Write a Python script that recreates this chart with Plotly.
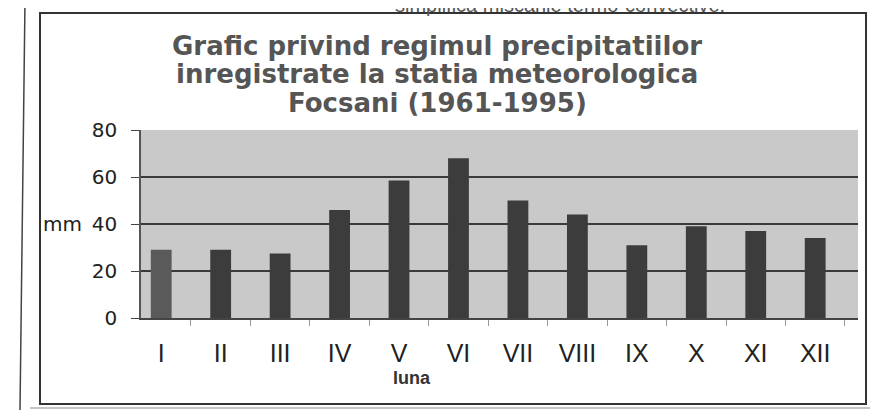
import plotly.graph_objects as go

months = ["I", "II", "III", "IV", "V", "VI", "VII", "VIII", "IX", "X", "XI", "XII"]
precip = [29, 29, 27.5, 46, 58.5, 68, 50, 44, 31, 39, 37, 34]
yticks = [0, 20, 40, 60, 80]

W, H = 879, 416
OFF = 8  # page body offset
# plot area in reference pixels
L, R, T, B = 141, 858, 130, 318
Lf, Rf, Tf, Bf = L - OFF, R - OFF, T - OFF, B - OFF

def px(x):
    return (x - L) / (R - L)

def py(y):
    return (B - y) / (B - T)

colors = ["#5a5a5a"] + ["#3c3c3c"] * (len(months) - 1)

fig = go.Figure(go.Bar(x=months, y=precip, marker=dict(color=colors, line=dict(width=0)), width=0.35))

title_lines = ["Grafic privind regimul precipitatiilor",
               "inregistrate la statia meteorologica",
               "Focsani (1961-1995)"]
title_y = [46, 74, 103]

ann = []
for t, yy in zip(title_lines, title_y):
    ann.append(dict(text="<b>" + t + "</b>", xref="paper", yref="paper", x=px(437), y=py(yy),
                    xanchor="center", yanchor="middle", showarrow=False,
                    font=dict(family="DejaVu Sans", size=26, color="#555")))
ann += [
    dict(text="mm", xref="paper", yref="paper", x=px(84), y=py(224), xanchor="right", yanchor="middle",
         showarrow=False, font=dict(family="DejaVu Sans", size=20, color="#222")),
    dict(text="<b>luna</b>", xref="paper", yref="paper", x=px(412), y=py(378), xanchor="center", yanchor="middle",
         showarrow=False, font=dict(family="Liberation Sans", size=18, color="#333")),
    dict(text="simplifica miscarile termo-convective.", xref="paper", yref="paper", x=px(560), y=py(5),
         xanchor="center", yanchor="middle", showarrow=False,
         font=dict(family="Liberation Sans", size=20, color="#555")),
]

fig.update_layout(
    width=W, height=H,
    margin=dict(l=Lf, r=W - Rf, t=Tf, b=H - Bf, pad=0),
    paper_bgcolor="white",
    plot_bgcolor="#c9c9c9",
    showlegend=False,
    font=dict(family="Liberation Sans, Arial", color="#2a2a2a"),
    xaxis=dict(
        type="category", range=[-0.34, 11.72],
        tickfont=dict(family="Liberation Sans Narrow, Liberation Sans", size=25, color="#222"),
        ticks="outside", tickson="boundaries", ticklen=6, tickcolor="#999",
        ticklabelstandoff=12,
        showline=True, linecolor="#444", linewidth=1.5,
        showgrid=False,
    ),
    yaxis=dict(
        range=[0, 80], tickvals=yticks,
        tickfont=dict(family="DejaVu Sans", size=20, color="#222"),
        ticks="outside", ticklen=8, tickcolor="#444",
        ticklabelstandoff=10,
        showline=True, linecolor="#555", linewidth=1.5,
        showgrid=True, gridcolor="#3a3a3a", gridwidth=1.5,
        zeroline=False,
    ),
    annotations=ann,
    shapes=[
        dict(type="rect", xref="paper", yref="paper", x0=px(40), x1=px(866), y0=py(13), y1=py(404),
             line=dict(color="#333", width=2), layer="below"),
        dict(type="line", xref="paper", yref="paper", x0=px(25), x1=px(20), y0=py(0), y1=py(410),
             line=dict(color="#444", width=1.5)),
        dict(type="line", xref="paper", yref="paper", x0=px(30), x1=px(870), y0=py(408), y1=py(408),
             line=dict(color="#888", width=1)),
    ],
)

fig.write_html("out.html")
